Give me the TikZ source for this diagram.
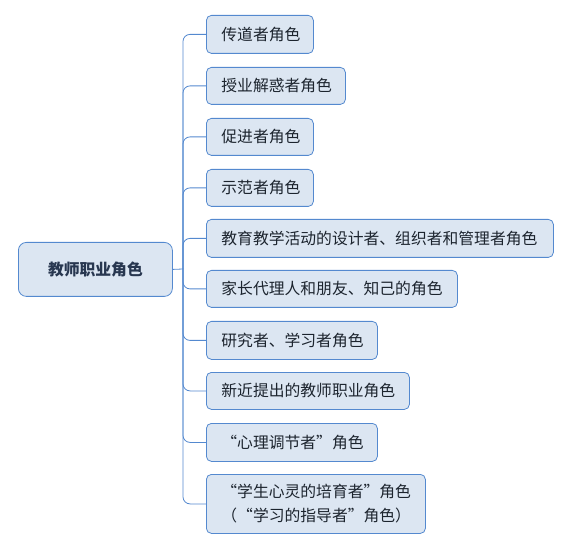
\documentclass[tikz,border=0pt]{standalone}
\usepackage{fontspec}
\setmainfont{Noto Sans CJK SC}
\definecolor{lineblue}{RGB}{84,137,207}
\definecolor{boxfill}{RGB}{220,230,242}
\definecolor{txt}{RGB}{28,36,46}
\definecolor{roottxt}{RGB}{40,55,80}
\tikzset{
  kid/.style={draw=lineblue, fill=boxfill, rounded corners=5pt, anchor=north west,
    inner xsep=15pt, inner ysep=0pt, align=left, text=txt, line width=0.8pt,
    font=\fontsize{15.8}{24}\selectfont},
  rootbox/.style={draw=lineblue, fill=boxfill, rounded corners=8pt, anchor=north west,
    minimum width=154pt, minimum height=54pt, inner sep=0pt, text=roottxt, line width=0.8pt,
    font=\fontsize{15.8}{20}\selectfont\bfseries},
  conn/.style={draw=lineblue, line width=0.8pt, rounded corners=7pt}
}
\begin{document}
\begin{tikzpicture}[x=1pt,y=-1pt]
\useasboundingbox (0,0) rectangle (573,545);
\node[rootbox] (root) at (18,242) {教师职业角色};
\node[kid, text width=77pt, minimum height=38pt] (c1) at (206,15) {传道者角色};
\node[kid, text width=109pt, minimum height=37pt] (c2) at (206,67) {授业解惑者角色};
\node[kid, text width=77pt, minimum height=37pt] (c3) at (206,118) {促进者角色};
\node[kid, text width=77pt, minimum height=37pt] (c4) at (206,169) {示范者角色};
\node[kid, text width=317pt, minimum height=38pt] (c5) at (206,219) {教育教学活动的设计者、组织者和管理者角色};
\node[kid, text width=221pt, minimum height=37pt] (c6) at (206,270) {家长代理人和朋友、知己的角色};
\node[kid, text width=141pt, minimum height=38pt] (c7) at (206,321) {研究者、学习者角色};
\node[kid, text width=173pt, minimum height=37pt] (c8) at (206,372) {新近提出的教师职业角色};
\node[kid, text width=141pt, minimum height=38pt] (c9) at (206,423) {“心理调节者”角色};
\node[kid, text width=189pt, minimum height=59pt] (c10) at (206,474) {“学生心灵的培育者”角色\\（“学习的指导者”角色）};
\coordinate (hub) at (183,269);
\draw[conn] (root.east) -- (hub);
\foreach \c in {c1,c2,c3,c4,c5,c6,c7,c8,c9,c10}
  \draw[conn] (hub) |- (\c.west);
\end{tikzpicture}
\end{document}
